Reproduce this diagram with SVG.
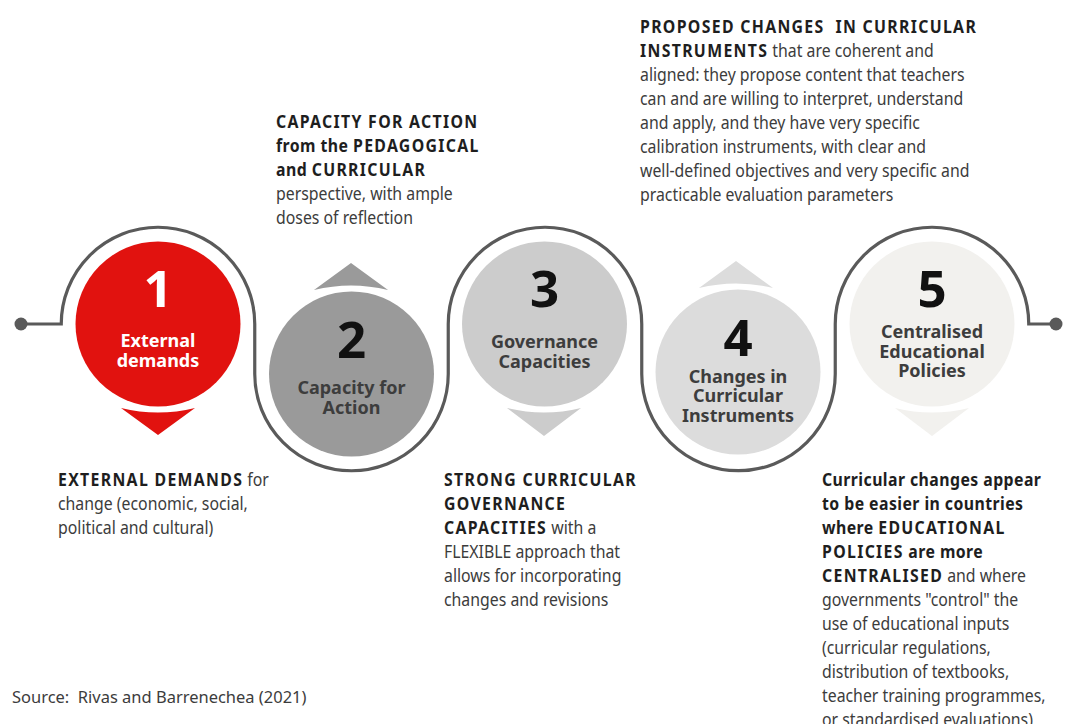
<svg xmlns="http://www.w3.org/2000/svg" width="1068" height="724" viewBox="0 0 1068 724">
  <style>
    .body { font-family: "Noto Sans", "Open Sans", "DejaVu Sans", sans-serif; font-size: 18px; fill: #3c3c3c; }
    .b { font-weight: 700; fill: #1e1e1e; letter-spacing: 0.5px; }
    .bu { font-weight: 700; fill: #1e1e1e; letter-spacing: 1.5px; }
    .num { font-family: "Noto Sans", "Open Sans", sans-serif; font-weight: 700; font-size: 51px; text-anchor: middle; fill: #111; }
    .lbl { font-family: "Noto Sans", "Open Sans", sans-serif; font-weight: 700; font-size: 18px; text-anchor: middle; fill: #3d3d3d; }
    .white { fill: #ffffff; }
    .route { fill: none; stroke: #5a5a5a; stroke-width: 3.2; }
    .dot { fill: #5a5a5a; }
    .pre { white-space: pre; }
  </style>

  <!-- serpentine route linking the five stages -->
  <g id="connectors">
    <path class="route" d="M21,324 H61.25 A96.75,96.75 0 0 1 254.75,324 V374 A96.75,96.75 0 0 0 448.25,374 V324 A96.75,96.75 0 0 1 641.75,324 V374 A96.75,96.75 0 0 0 835.25,374 V324 A96.75,96.75 0 0 1 1028.75,324 H1056"/>
    <circle class="dot" cx="21" cy="324" r="6.5"/>
    <circle class="dot" cx="1056" cy="324" r="6.5"/>
  </g>

  <!-- stage 1 -->
  <g id="node1">
    <path fill="#e1120f" d="M121,408 Q158,417 195,408 L158,435 Z"/>
    <circle cx="158" cy="324" r="82.5" fill="#e1120f"/>
    <text class="num white" x="158" y="307">1</text>
    <text class="lbl white" x="158" y="347">External</text>
    <text class="lbl white" x="158" y="367">demands</text>
  </g>

  <!-- stage 2 -->
  <g id="node2">
    <path fill="#9a9a9a" d="M314,290 Q351,281 388,290 L351,263 Z"/>
    <circle cx="351.5" cy="374" r="82.5" fill="#9a9a9a"/>
    <text class="num" x="351.5" y="358">2</text>
    <text class="lbl" x="351.5" y="394">Capacity for</text>
    <text class="lbl" x="351.5" y="414">Action</text>
  </g>

  <!-- stage 3 -->
  <g id="node3">
    <path fill="#cccccc" d="M507,408 Q544,417 581,408 L544,436 Z"/>
    <circle cx="544.5" cy="324" r="82.5" fill="#cccccc"/>
    <text class="num" x="544.5" y="307">3</text>
    <text class="lbl" x="544.5" y="348">Governance</text>
    <text class="lbl" x="544.5" y="368">Capacities</text>
  </g>

  <!-- stage 4 -->
  <g id="node4">
    <path fill="#dcdcdc" d="M699,288 Q736,279 773,288 L736,261 Z"/>
    <circle cx="738" cy="372" r="82.5" fill="#dcdcdc"/>
    <text class="num" x="738" y="356">4</text>
    <text class="lbl" x="738" y="383">Changes in</text>
    <text class="lbl" x="738" y="402">Curricular</text>
    <text class="lbl" x="738" y="422">Instruments</text>
  </g>

  <!-- stage 5 -->
  <g id="node5">
    <path fill="#f2f1ee" d="M895,408 Q932,417 969,408 L932,436 Z"/>
    <circle cx="932" cy="324" r="82.5" fill="#f2f1ee"/>
    <text class="num" x="932" y="307">5</text>
    <text class="lbl" x="932" y="338">Centralised</text>
    <text class="lbl" x="932" y="358">Educational</text>
    <text class="lbl" x="932" y="377">Policies</text>
  </g>

  <!-- descriptive notes -->
  <g id="note1" transform="translate(58,0) scale(0.88,1)">
    <text class="body" x="0" y="486"><tspan class="bu">EXTERNAL DEMANDS</tspan> for</text>
    <text class="body" x="0" y="510">change (economic, social,</text>
    <text class="body" x="0" y="534">political and cultural)</text>
  </g>

  <g id="note2" transform="translate(276,0) scale(0.88,1)">
    <text class="body bu" x="0" y="128">CAPACITY FOR ACTION</text>
    <text class="body" x="0" y="152"><tspan class="b">from the </tspan><tspan class="bu">PEDAGOGICAL</tspan></text>
    <text class="body" x="0" y="176"><tspan class="b">and </tspan><tspan class="bu">CURRICULAR</tspan></text>
    <text class="body" x="0" y="200">perspective, with ample</text>
    <text class="body" x="0" y="224">doses of reflection</text>
  </g>

  <g id="note3" transform="translate(444,0) scale(0.88,1)">
    <text class="body bu" x="0" y="486">STRONG CURRICULAR</text>
    <text class="body bu" x="0" y="510">GOVERNANCE</text>
    <text class="body" x="0" y="534"><tspan class="bu">CAPACITIES</tspan> with a</text>
    <text class="body" x="0" y="558">FLEXIBLE approach that</text>
    <text class="body" x="0" y="582">allows for incorporating</text>
    <text class="body" x="0" y="606">changes and revisions</text>
  </g>

  <g id="note4" transform="translate(640,0) scale(0.88,1)">
    <text class="body bu pre" x="0" y="33">PROPOSED CHANGES  IN CURRICULAR</text>
    <text class="body" x="0" y="57"><tspan class="bu">INSTRUMENTS</tspan> that are coherent and</text>
    <text class="body" x="0" y="81">aligned: they propose content that teachers</text>
    <text class="body" x="0" y="105">can and are willing to interpret, understand</text>
    <text class="body" x="0" y="129">and apply, and they have very specific</text>
    <text class="body" x="0" y="153">calibration instruments, with clear and</text>
    <text class="body" x="0" y="177">well-defined objectives and very specific and</text>
    <text class="body" x="0" y="201">practicable evaluation parameters</text>
  </g>

  <g id="note5" transform="translate(822,0) scale(0.88,1)">
    <text class="body b" x="0" y="486">Curricular changes appear</text>
    <text class="body b" x="0" y="510">to be easier in countries</text>
    <text class="body" x="0" y="534"><tspan class="b">where </tspan><tspan class="bu">EDUCATIONAL</tspan></text>
    <text class="body" x="0" y="558"><tspan class="bu">POLICIES</tspan><tspan class="b"> are more</tspan></text>
    <text class="body" x="0" y="582"><tspan class="bu">CENTRALISED</tspan> and where</text>
    <text class="body" x="0" y="606">governments "control" the</text>
    <text class="body" x="0" y="630">use of educational inputs</text>
    <text class="body" x="0" y="654">(curricular regulations,</text>
    <text class="body" x="0" y="678">distribution of textbooks,</text>
    <text class="body" x="0" y="702">teacher training programmes,</text>
    <text class="body" x="0" y="726">or standardised evaluations)</text>
  </g>

  <g id="source" transform="translate(12,0) scale(1.03,1)">
    <text class="body pre" x="0" y="703" style="font-size:16px">Source:  Rivas and Barrenechea (2021)</text>
  </g>
</svg>
